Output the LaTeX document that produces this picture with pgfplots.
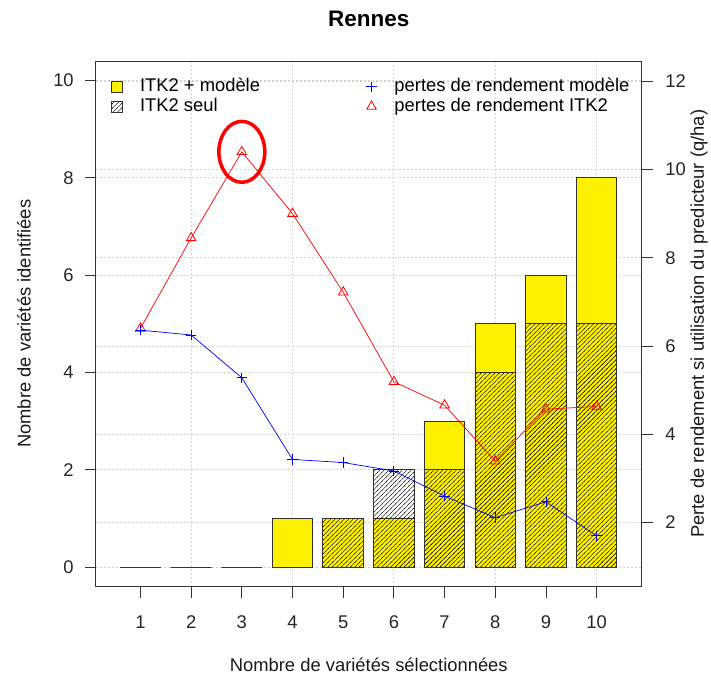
\documentclass[border=0pt]{standalone}
\usepackage{fontspec}
\setmainfont{Liberation Sans}
\usepackage{pgfplots}
\pgfplotsset{compat=1.18}
\usetikzlibrary{patterns}

\definecolor{gridc}{HTML}{D3D3D3}
\definecolor{axc}{HTML}{333333}
\newcommand\fs{\fontsize{18.4pt}{22pt}\selectfont}

\pgfdeclarepatternformonly{hatch}{\pgfpoint{-1pt}{-1pt}}{\pgfpoint{5.5pt}{5.5pt}}{\pgfpoint{4.5pt}{4.5pt}}%
{\pgfsetlinewidth{0.4pt}\pgfpathmoveto{\pgfpoint{-0.5pt}{-0.5pt}}\pgfpathlineto{\pgfpoint{5pt}{5pt}}\pgfusepath{stroke}}

\pgfplotsset{
  common/.style={
    width=546.5pt, height=526.3pt, scale only axis,
    xmin=0.12, xmax=10.89,
    at={(0pt,0pt)}, anchor=south west,
    /pgf/number format/assume math mode=true,
    tick label style={font=\fs, text=black!85},
    label style={font=\fs, text=black!90},
    tick align=outside,
    major tick length=11pt,
    every tick/.style={axc, line width=0.8pt},
    grid style={gridc, dash pattern=on 2pt off 2pt, line width=0.8pt},
  },
}

\begin{document}
\begin{tikzpicture}
% grid of the right-hand scale (drawn first, under the bars)
\begin{axis}[common,
  ymin=0.55, ymax=12.46,
  axis line style={draw=none},
  ytick={2,4,...,12}, yticklabels={}, xtick=\empty,
  major tick length=0pt,
  ymajorgrids]
\addplot[draw=none] coordinates {(1,2)};
\end{axis}

% bars, left-hand scale
\begin{axis}[common,
  ymin=-0.4, ymax=10.4,
  xtick={1,...,10}, ytick={0,2,...,10},
  minor xtick={2,4,6,8,10}, minor tick length=0pt,
  xminorgrids, ymajorgrids,
  xtick pos=left, ytick pos=left,
  axis line style={axc, line width=0.8pt},
  xticklabel style={anchor=north, inner sep=0pt, yshift=-18pt},
  yticklabel style={anchor=east, inner sep=0pt, xshift=-11pt},
  xlabel={Nombre de variétés sélectionnées},
  xlabel style={at={(axis description cs:0.5,0)}, anchor=center, yshift=-78pt},
  ylabel={Nombre de variétés identifiées},
  ylabel style={at={(axis description cs:-0.1317,0.5)}, anchor=center},
  title={Rennes},
  title style={font=\fontsize{22.5pt}{27pt}\selectfont\bfseries, at={(axis description cs:0.5,1)}, anchor=center, yshift=36pt},
  legend cell align=left,
  legend style={at={(axis description cs:0.0284,0.9675)}, anchor=north west,
    draw=none, fill=none, inner sep=0pt, outer sep=0pt, font=\fs,
    column sep=16.8pt, row sep=2pt,
    nodes={inner sep=0pt, text height=13.5pt, text depth=4.2pt}},
  ]
\addplot[ybar, bar width=0.8, bar shift=0pt, fill=yellow, draw=axc, line width=0.9pt,
  legend image code/.code={\draw[fill=yellow, draw=axc, line width=0.9pt] (0pt,-5.5pt) rectangle (11pt,5.5pt);}]
  coordinates {(1,0) (2,0) (3,0) (4,1) (5,1) (6,1) (7,3) (8,5) (9,6) (10,8)};
\addlegendentry{ITK2 + modèle}
\addplot[ybar, bar width=0.8, bar shift=0pt, pattern=hatch, pattern color=black, draw=axc, line width=0.9pt,
  legend image code/.code={\draw[pattern=hatch, pattern color=black, draw=axc, line width=0.9pt] (0pt,-5.5pt) rectangle (11pt,5.5pt);}]
  coordinates {(1,0) (2,0) (3,0) (4,0) (5,1) (6,2) (7,2) (8,4) (9,5) (10,5)};
\addlegendentry{ITK2 seul}
\end{axis}

% yield-loss lines, right-hand scale
\begin{axis}[common,
  ymin=0.55, ymax=12.46,
  axis x line=none, axis y line*=right,
  axis line style={-, axc, line width=0.8pt},
  ytick={2,4,...,12},
  yticklabel style={anchor=west, inner sep=0pt, xshift=12.5pt},
  ylabel={Perte de rendement si utilisation du predicteur (q/ha)},
  ylabel style={at={(axis description cs:1.1052,0.5)}, anchor=center},
  reverse legend,
  legend cell align=left,
  legend style={at={(axis description cs:0.494,0.9675)}, anchor=north west,
    draw=none, fill=none, inner sep=0pt, outer sep=0pt, font=\fs,
    column sep=17pt, row sep=2pt,
    nodes={inner sep=0pt, text height=13.5pt, text depth=4.2pt}},
  legend image code/.code={\path[draw=none, fill=none] (0pt,-5pt) rectangle (12pt,5pt); \draw[#1] plot coordinates {(6pt,0pt)};},
  ]
\addplot[red, line width=0.7pt, mark=triangle, mark size=5.5pt, mark options={fill=white, line width=0.8pt}]
  coordinates {(1,6.40) (2,8.45) (3,10.40) (4,9.00) (5,7.22) (6,5.19) (7,4.66) (8,3.39) (9,4.57) (10,4.63)};
\addlegendentry{pertes de rendement ITK2}
\addplot[blue, line width=0.7pt, mark=+, mark size=5.25pt, mark options={line width=0.8pt}]
  coordinates {(1,6.36) (2,6.25) (3,5.28) (4,3.43) (5,3.36) (6,3.17) (7,2.60) (8,2.11) (9,2.47) (10,1.70)};
\addlegendentry{pertes de rendement modèle}
\draw[red, line width=3.5pt] (axis cs:3,10.40) ellipse [x radius=23pt, y radius=30.5pt];
\end{axis}

\path[use as bounding box] (-96pt,-87.7pt) rectangle (615pt,587.3pt);
\end{tikzpicture}
\end{document}
